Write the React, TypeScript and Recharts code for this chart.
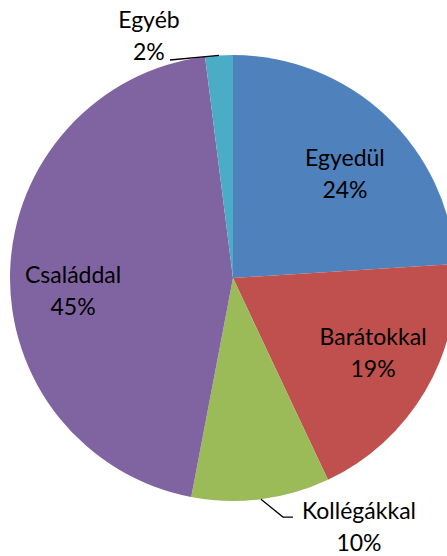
import React from 'react';
import { PieChart, Pie, Cell } from 'recharts';

const categories = ['Egyedül', 'Barátokkal', 'Kollégákkal', 'Családdal', 'Egyéb'];
const shares = [24, 19, 10, 45, 2];
const percentLabels = ['24%', '19%', '10%', '45%', '2%'];
const colors = ['#4F81BD', '#C0504D', '#9BBB59', '#8064A2', '#4BACC6'];

const data = categories.map((name, i) => ({ name, value: shares[i], pct: percentLabels[i] }));

// label anchor offsets (in units of outer radius) relative to pie centre
const LABEL_LAYOUT = [
  { dx: 0.502, dy: -0.502, leader: null },
  { dx: 0.628, dy: 0.3, leader: null },
  { dx: 0.565, dy: 1.081, leader: { corner: [-76, -2], end: [-66, -2] } },
  { dx: -0.717, dy: 0.022, leader: null },
  { dx: -0.377, dy: -1.121, leader: { corner: null, end: [21, 32] } },
];

const RAD = Math.PI / 180;
const FONT = 'Lato, "Noto Sans", sans-serif';

const renderLabel = (props: any) => {
  const { cx, cy, midAngle, outerRadius, index } = props;
  const lay = LABEL_LAYOUT[index];
  const x = cx + lay.dx * outerRadius;
  const y = cy + lay.dy * outerRadius;
  const d = data[index];
  let leader = null;
  if (lay.leader) {
    const sx = cx + outerRadius * Math.cos(-midAngle * RAD);
    const sy = cy + outerRadius * Math.sin(-midAngle * RAD);
    const pts: number[][] = [[sx, sy]];
    if (lay.leader.corner) pts.push([x + lay.leader.corner[0], y + lay.leader.corner[1]]);
    pts.push([x + lay.leader.end[0], y + lay.leader.end[1]]);
    leader = (
      <polyline
        points={pts.map((p) => p.join(',')).join(' ')}
        fill="none"
        stroke="#000"
        strokeWidth={1.3}
      />
    );
  }
  return (
    <g key={`lbl-${index}`}>
      {leader}
      <text x={x} y={y} textAnchor="middle" fontFamily={FONT} fontSize={23} fill="#000">
        <tspan x={x} y={y}>{d.name}</tspan>
        <tspan x={x} y={y + 32}>{d.pct}</tspan>
      </text>
    </g>
  );
};

export default function App() {
  return (
    <div style={{ position: 'absolute', left: 0, top: 0, width: 447, height: 556, overflow: 'hidden', background: '#fff' }}>
      <PieChart width={447} height={556} margin={{ top: 0, right: 0, bottom: 0, left: 0 }}>
        <Pie
          data={data}
          dataKey="value"
          nameKey="name"
          cx={233}
          cy={278}
          outerRadius={223}
          startAngle={90}
          endAngle={-270}
          stroke="none"
          isAnimationActive={false}
          label={renderLabel}
          labelLine={false}
        >
          {data.map((d, i) => (
            <Cell key={d.name} fill={colors[i]} />
          ))}
        </Pie>
      </PieChart>
    </div>
  );
}
